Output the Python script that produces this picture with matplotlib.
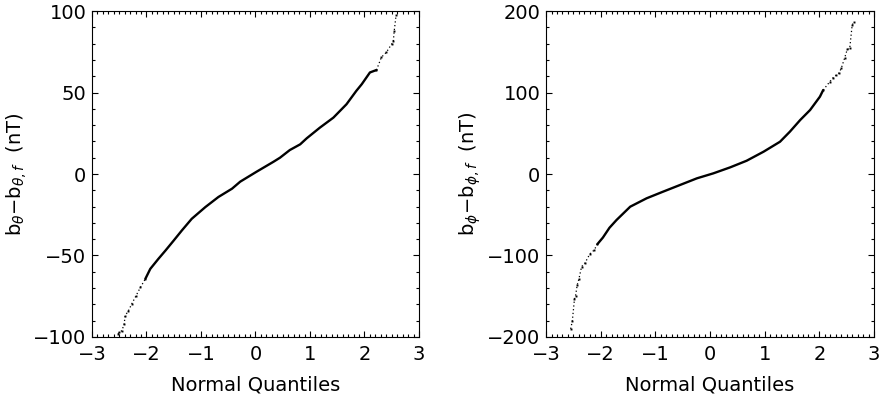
import numpy as np
import matplotlib.pyplot as plt
from matplotlib.ticker import MultipleLocator

# b_theta residuals: dense middle part of the Q-Q curve
theta_q = [-2.02, -1.93, -1.78, -1.65, -1.50, -1.35, -1.17, -0.92, -0.68, -0.43, -0.28,
           0.02, 0.33, 0.45, 0.63, 0.82, 0.94, 1.18, 1.43, 1.67, 1.85, 1.95, 2.10, 2.22]
theta_r = [-64.3, -58.2, -52.0, -46.9, -40.8, -34.6, -27.5, -20.3, -14.1, -9.0, -4.7,
           1.4, 7.5, 10.0, 14.7, 18.2, 21.9, 28.4, 34.6, 42.8, 51.0, 55.1, 62.3, 63.8]
# sparse tails
theta_lo_q = [-2.52, -2.50, -2.45, -2.41, -2.39, -2.33, -2.27, -2.19, -2.11, -2.02]
theta_lo_r = [-98.0, -97.1, -96.1, -92.0, -86.9, -83.8, -79.7, -74.6, -69.5, -64.3]
theta_hi_q = [2.22, 2.31, 2.40, 2.50, 2.53, 2.545, 2.58]
theta_hi_r = [63.8, 71.6, 74.6, 79.8, 81.8, 87.6, 97.5]

# b_phi residuals
phi_q = [-2.06, -1.96, -1.84, -1.71, -1.46, -1.16, -0.86, -0.55, -0.24, 0.06,
         0.37, 0.67, 0.98, 1.28, 1.46, 1.65, 1.83, 2.01, 2.07]
phi_r = [-86.0, -78.0, -66.0, -56.4, -40.1, -29.8, -21.7, -13.5, -5.3, 0.8,
         8.2, 16.3, 27.4, 39.6, 51.9, 66.3, 78.5, 94.9, 103.0]
phi_lo_q = [-2.55, -2.52, -2.48, -2.46, -2.43, -2.40, -2.35, -2.29, -2.20, -2.12, -2.06]
phi_lo_r = [-190.0, -180.8, -153.4, -149.3, -136.2, -129.2, -113.7, -109.6, -98.2, -93.3, -86.0]
phi_hi_q = [2.07, 2.19, 2.25, 2.31, 2.36, 2.40, 2.46, 2.51, 2.555, 2.60, 2.63]
phi_hi_r = [103.0, 113.2, 118.0, 121.4, 124.0, 129.6, 141.9, 152.9, 154.1, 182.8, 186.1]

plt.rcParams['font.family'] = 'DejaVu Sans'
plt.rcParams['font.size'] = 14

fig = plt.figure(figsize=(8.86, 3.99), dpi=100)
ax1 = fig.add_axes([0.1038, 0.1554, 0.3691, 0.817])
ax2 = fig.add_axes([0.6163, 0.1554, 0.3702, 0.817])

panels = [
    (ax1, theta_q, theta_r, theta_lo_q, theta_lo_r, theta_hi_q, theta_hi_r,
     100, 50, 10, r'b$_\theta$$-$b$_{\theta,f}$  (nT)'),
    (ax2, phi_q, phi_r, phi_lo_q, phi_lo_r, phi_hi_q, phi_hi_r,
     200, 100, 20, r'b$_\phi$$-$b$_{\phi,f}$  (nT)'),
]

for ax, q, r, lq, lr, hq, hr, lim, major, minor, label in panels:
    ax.plot(q, r, color='black', lw=1.7, solid_capstyle='round')
    for tq, tr in [(lq, lr), (hq, hr)]:
        ax.plot(tq, tr, color='black', lw=0.9, ls=(0, (1, 2)))
        ax.plot(tq, tr, ls='none', marker='s', ms=1.4, mew=0, color='black')
    ax.set_xlim(-3, 3)
    ax.set_ylim(-lim, lim)
    ax.xaxis.set_major_locator(MultipleLocator(1))
    ax.xaxis.set_minor_locator(MultipleLocator(0.1))
    ax.yaxis.set_major_locator(MultipleLocator(major))
    ax.yaxis.set_minor_locator(MultipleLocator(minor))
    ax.tick_params(which='both', direction='in', top=True, right=True,
                   width=0.8, labelsize=14)
    ax.tick_params(which='major', length=4.5, pad=6)
    ax.tick_params(which='minor', length=2)
    ax.tick_params(axis='y', which='major', pad=4)
    for s in ax.spines.values():
        s.set_linewidth(0.8)
    ax.set_xlabel('Normal Quantiles', fontsize=14, labelpad=8)
    ax.set_ylabel(label, fontsize=14, labelpad=3)

fig.savefig('out.png', dpi=100)
